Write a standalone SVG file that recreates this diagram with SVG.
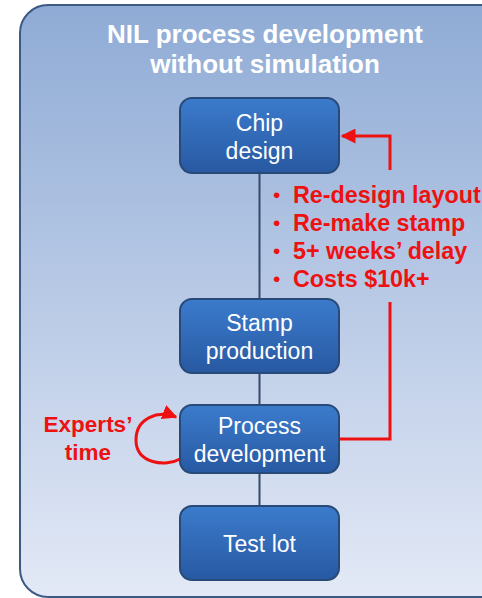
<svg xmlns="http://www.w3.org/2000/svg" width="482" height="598" viewBox="0 0 482 598">
  <defs>
    <linearGradient id="panelFill" x1="0" y1="0" x2="0" y2="1">
      <stop offset="0" stop-color="#8fabd5"/>
      <stop offset="0.5" stop-color="#b9cae6"/>
      <stop offset="1" stop-color="#e3e9f6"/>
    </linearGradient>
    <linearGradient id="boxFill" x1="0" y1="0" x2="0" y2="1">
      <stop offset="0" stop-color="#3b7bcc"/>
      <stop offset="1" stop-color="#2859a2"/>
    </linearGradient>
    <marker id="redHead" viewBox="0 0 10 10" refX="9" refY="5" markerWidth="5" markerHeight="5" orient="auto" markerUnits="strokeWidth">
      <path d="M0,0 L10,5 L0,10 z" fill="#ee1111"/>
    </marker>
    <style>
      .node rect { fill: url(#boxFill); stroke: #284a78; stroke-width: 2; }
      .node text { font-family: "Liberation Sans", Arial, sans-serif; font-size: 23px; fill: #ffffff; text-anchor: middle; }
      .title { font-family: "Liberation Sans", Arial, sans-serif; font-size: 26px; font-weight: bold; fill: #ffffff; text-anchor: middle; }
      .note { font-family: "Liberation Sans", Arial, sans-serif; font-size: 23.3px; font-weight: bold; fill: #ee1111; }
      .note .bullet { font-size: 21px; font-weight: normal; }
      #experts-time { font-size: 22.5px; }
      .link { stroke: #34496b; stroke-width: 2; fill: none; }
      .loop { stroke: #ee1111; stroke-width: 3; fill: none; }
    </style>
  </defs>

  <!-- background panel -->
  <rect x="0" y="0" width="482" height="598" fill="#ffffff"/>
  <rect id="panel" x="20" y="5" width="490" height="592" rx="28" ry="28" fill="url(#panelFill)" stroke="#3c5a84" stroke-width="2"/>

  <text class="title" x="265" y="43">NIL process development</text>
  <text class="title" x="265" y="73">without simulation</text>

  <!-- connectors -->
  <g id="connectors">
    <line class="link" x1="259.5" y1="173" x2="259.5" y2="299"/>
    <line class="link" x1="259.5" y1="373" x2="259.5" y2="405"/>
    <line class="link" x1="259.5" y1="473" x2="259.5" y2="506"/>
    <!-- feedback from process development back to chip design -->
    <path class="loop" d="M339 439 H390 V302"/>
    <path class="loop" d="M390 170 V136 H342" marker-end="url(#redHead)"/>
    <!-- self loop on process development -->
    <path class="loop" d="M180 459 C166 467 136 464 136 440 C136 418 158 410 176 417" marker-end="url(#redHead)"/>
  </g>

  <g id="chip-design" class="node">
    <rect x="180" y="98" width="159" height="75" rx="12" ry="12"/>
    <text x="259.5" y="131">Chip</text>
    <text x="259.5" y="159">design</text>
  </g>

  <g id="stamp-production" class="node">
    <rect x="180" y="299" width="159" height="74" rx="12" ry="12"/>
    <text x="259.5" y="331">Stamp</text>
    <text x="259.5" y="359">production</text>
  </g>

  <g id="process-development" class="node">
    <rect x="180" y="405" width="159" height="68" rx="12" ry="12"/>
    <text x="259.5" y="434">Process</text>
    <text x="259.5" y="462">development</text>
  </g>

  <g id="test-lot" class="node">
    <rect x="180" y="506" width="159" height="74" rx="12" ry="12"/>
    <text x="259.5" y="552">Test lot</text>
  </g>

  <!-- consequences of a redesign -->
  <g id="redesign-notes" class="note">
    <text class="bullet" x="273" y="202">•</text><text x="293" y="203">Re-design layout</text>
    <text class="bullet" x="273" y="230">•</text><text x="293" y="231">Re-make stamp</text>
    <text class="bullet" x="273" y="258">•</text><text x="293" y="259">5+ weeks’ delay</text>
    <text class="bullet" x="273" y="286">•</text><text x="293" y="287">Costs $10k+</text>
  </g>

  <g id="experts-time" class="note" text-anchor="middle">
    <text x="88" y="432">Experts’</text>
    <text x="88" y="460">time</text>
  </g>
</svg>
